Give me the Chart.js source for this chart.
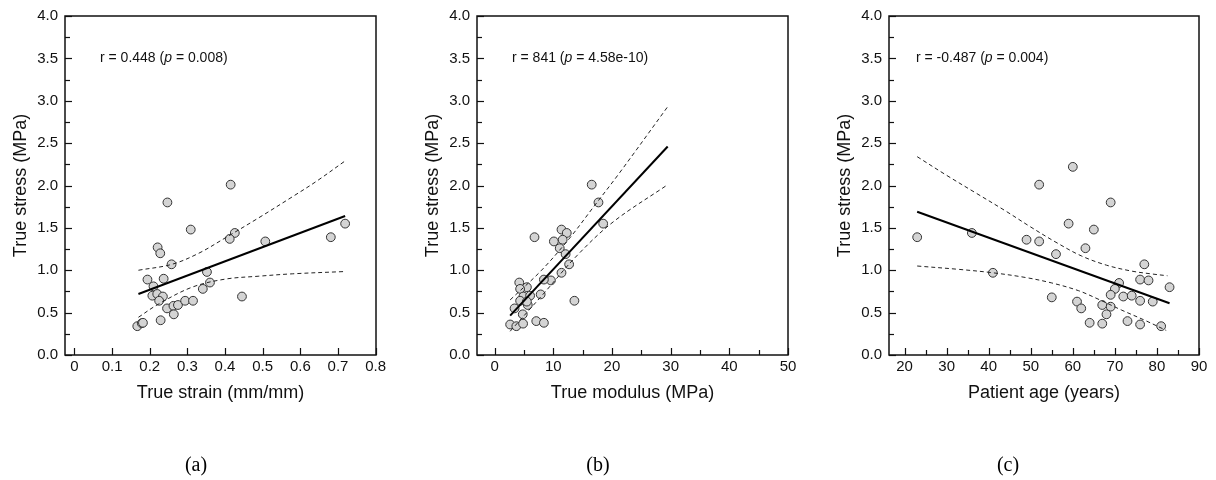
<!DOCTYPE html>
<html>
<head>
<meta charset="utf-8">
<script src="https://cdn.jsdelivr.net/npm/chart.js@4.4.0/dist/chart.umd.min.js"></script>
<style>
  body { margin: 0; background: #fff; width: 1216px; height: 480px; position: relative; overflow: hidden; }
  canvas { position: absolute; top: 0; }
  .cap { position: absolute; top: 453px; font-family: "Liberation Serif", "Times New Roman", serif; font-size: 20px; color: #000; transform: translateX(-50%); }
</style>
</head>
<body>
<canvas id="chartA" width="400" height="480" style="left:0px"></canvas>
<canvas id="chartB" width="400" height="480" style="left:412px"></canvas>
<canvas id="chartC" width="392" height="480" style="left:824px"></canvas>
<div class="cap" style="left:196px">(a)</div>
<div class="cap" style="left:598px">(b)</div>
<div class="cap" style="left:1008px">(c)</div>
<script>
// ---- data ----
const stressTicks = [0, 0.5, 1.0, 1.5, 2.0, 2.5, 3.0, 3.5, 4.0];

// (a) true strain vs true stress
const strainA = [0.415, 0.247, 0.309, 0.426, 0.4125, 0.507, 0.681, 0.719, 0.221, 0.228, 0.258, 0.352, 0.36, 0.341,
  0.194, 0.237, 0.21, 0.207, 0.22, 0.235, 0.225, 0.445, 0.246, 0.263, 0.275, 0.294, 0.315, 0.264, 0.229, 0.167, 0.179, 0.182];
const stressA = [2.01, 1.80, 1.48, 1.44, 1.37, 1.34, 1.39, 1.55, 1.27, 1.20, 1.07, 0.98, 0.855, 0.78,
  0.89, 0.90, 0.81, 0.70, 0.72, 0.69, 0.64, 0.69, 0.55, 0.58, 0.59, 0.64, 0.64, 0.48, 0.41, 0.34, 0.375, 0.38];
const fitAx = [0.17, 0.719];
const fitAy = [0.72, 1.64];
const bandAx = [0.17, 0.259, 0.33, 0.40, 0.49, 0.58, 0.643, 0.719];
const upperAy = [1.00, 1.07, 1.20, 1.38, 1.62, 1.87, 2.05, 2.29];
const lowerAx = [0.17, 0.223, 0.3125, 0.40, 0.49, 0.58, 0.719];
const lowerAy = [0.445, 0.60, 0.80, 0.895, 0.93, 0.958, 0.985];
const xTicksA = [0, 0.1, 0.2, 0.3, 0.4, 0.5, 0.6, 0.7, 0.8];

// (b) true modulus vs true stress
const modulusB = [16.55, 17.7, 18.5, 11.4, 12.3, 6.8, 10.1, 11.6, 11.1, 12.1, 12.7, 11.4, 9.6, 8.4, 4.2, 5.5, 4.35, 7.85,
  4.9, 6.05, 4.35, 5.65, 13.6, 3.4, 4.8, 2.65, 3.7, 4.85, 7.1, 8.4, 5.5];
const stressB = [2.01, 1.80, 1.55, 1.48, 1.44, 1.39, 1.34, 1.36, 1.26, 1.19, 1.07, 0.97, 0.88, 0.89, 0.855, 0.80, 0.78, 0.715,
  0.69, 0.70, 0.64, 0.59, 0.64, 0.55, 0.48, 0.36, 0.34, 0.37, 0.40, 0.38, 0.63];
const fitBx = [2.65, 29.5];
const fitBy = [0.465, 2.46];
const upperBx = [2.65, 8, 12.8, 17, 21.3, 29.5];
const upperBy = [0.65, 1.0, 1.38, 1.76, 2.15, 2.93];
const lowerBx = [2.65, 8.3, 14, 20.2, 29.5];
const lowerBy = [0.28, 0.72, 1.17, 1.57, 2.01];
const xTicksB = [0, 10, 20, 30, 40, 50];

// (c) patient age vs true stress
const ageC = [52, 69, 59, 65, 23, 36, 49, 52, 56, 63, 77, 41, 76, 78, 71, 83, 70, 69, 72, 74, 55, 61, 76, 79, 62, 67, 69, 68,
  64, 67, 73, 76, 81, 60];
const stressC = [2.01, 1.80, 1.55, 1.48, 1.39, 1.44, 1.36, 1.34, 1.19, 1.26, 1.07, 0.97, 0.89, 0.88, 0.85, 0.80, 0.78, 0.71,
  0.69, 0.70, 0.68, 0.63, 0.64, 0.63, 0.55, 0.59, 0.57, 0.48, 0.38, 0.37, 0.40, 0.36, 0.34, 2.22];
const fitCx = [23, 83];
const fitCy = [1.69, 0.61];
const upperCx = [23, 30, 37, 44, 50, 56, 62, 68, 74, 79, 82.5];
const upperCy = [2.34, 2.12, 1.91, 1.70, 1.51, 1.33, 1.17, 1.06, 0.99, 0.955, 0.935];
const lowerCx = [23, 33, 41, 48.7, 55, 61.3, 66, 71.6, 77.1, 82.2];
const lowerCy = [1.05, 1.01, 0.97, 0.915, 0.85, 0.76, 0.66, 0.53, 0.41, 0.29];
const xTicksC = [20, 30, 40, 50, 60, 70, 80, 90];

const FONT = "'Liberation Sans', Arial, Helvetica, sans-serif";
const zip = (xs, ys) => xs.map((x, i) => ({ x: x, y: ys[i] }));

// frame, inward tick marks and the r / p note
const framePlugin = {
  id: 'frame',
  afterDraw(chart, args, opts) {
    const ctx = chart.ctx;
    const a = chart.chartArea;
    const xs = chart.scales.x, ys = chart.scales.y;
    ctx.save();
    ctx.strokeStyle = '#111';
    ctx.lineWidth = 1.2;
    ys.ticks.forEach(t => {
      const y = Math.round(ys.getPixelForValue(t.value)) + 0.5;
      ctx.beginPath(); ctx.moveTo(a.left, y); ctx.lineTo(a.left + 7, y); ctx.stroke();
      const m = t.value + 0.25;
      if (m < ys.max) {
        const ym = Math.round(ys.getPixelForValue(m)) + 0.5;
        ctx.beginPath(); ctx.moveTo(a.left, ym); ctx.lineTo(a.left + 5, ym); ctx.stroke();
      }
    });
    xs.ticks.forEach(t => {
      const x = Math.round(xs.getPixelForValue(t.value)) + 0.5;
      ctx.beginPath(); ctx.moveTo(x, a.bottom); ctx.lineTo(x, a.bottom - 7); ctx.stroke();
      if (opts.minor) {
        const m = t.value + opts.minor;
        if (m < xs.max) {
          const xm = Math.round(xs.getPixelForValue(m)) + 0.5;
          ctx.beginPath(); ctx.moveTo(xm, a.bottom); ctx.lineTo(xm, a.bottom - 5); ctx.stroke();
        }
      }
    });
    ctx.lineWidth = 1.5;
    ctx.strokeRect(a.left, a.top, a.right - a.left, a.bottom - a.top);

    // note text
    ctx.fillStyle = '#111';
    ctx.textBaseline = 'middle';
    let x = a.left + opts.noteDx;
    const y = ys.getPixelForValue(3.5);
    const parts = [[opts.pre, ''], ['p', 'italic '], [opts.post, '']];
    parts.forEach(p => {
      ctx.font = p[1] + '14px ' + FONT;
      ctx.fillText(p[0], x, y);
      x += ctx.measureText(p[0]).width;
    });
    ctx.restore();
  }
};

function makePanel(id, o) {
  new Chart(document.getElementById(id), {
    type: 'scatter',
    data: {
      datasets: [
        { data: zip(o.fitX, o.fitY), showLine: true, borderColor: '#000', borderWidth: 2, pointRadius: 0 },
        { data: zip(o.upX, o.upY), showLine: true, borderColor: '#222', borderWidth: 1, borderDash: [4, 3], pointRadius: 0, tension: 0.35 },
        { data: zip(o.loX, o.loY), showLine: true, borderColor: '#222', borderWidth: 1, borderDash: [4, 3], pointRadius: 0, tension: 0.35 },
        { data: zip(o.px, o.py), pointRadius: 4.4, backgroundColor: '#d4d4d4', borderColor: '#333', borderWidth: 1 }
      ]
    },
    options: {
      responsive: false,
      animation: false,
      layout: { padding: { top: 13, right: o.padRight, bottom: 76, left: 0 } },
      plugins: {
        legend: { display: false },
        tooltip: { enabled: false },
        frame: { minor: o.minor, noteDx: o.noteDx, pre: o.pre, post: o.post }
      },
      scales: {
        x: {
          type: 'linear', min: o.xMin, max: o.xMax,
          afterBuildTicks: s => { s.ticks = o.xTicks.map(v => ({ value: v })); },
          afterFit: s => { s.height = 49; },
          grid: { display: false, drawTicks: false, tickLength: 0 },
          border: { display: false },
          ticks: { font: { family: FONT, size: 15 }, color: '#111', padding: 3, maxRotation: 0,
            callback: v => o.xFmt(v) },
          title: { display: true, text: o.xTitle, font: { family: FONT, size: 18 }, color: '#111', padding: 0 }
        },
        y: {
          min: 0, max: 4,
          afterBuildTicks: s => { s.ticks = stressTicks.map(v => ({ value: v })); },
          afterFit: s => { s.width = 65; },
          grid: { display: false, drawTicks: false, tickLength: 0 },
          border: { display: false },
          ticks: { font: { family: FONT, size: 15 }, color: '#111', padding: 7, callback: v => v.toFixed(1) },
          title: { display: true, text: 'True stress (MPa)', font: { family: FONT, size: 18 }, color: '#111', padding: { top: 10, bottom: 0 } }
        }
      }
    },
    plugins: [framePlugin]
  });
}

makePanel('chartA', {
  px: strainA, py: stressA, fitX: fitAx, fitY: fitAy, upX: bandAx, upY: upperAy, loX: lowerAx, loY: lowerAy,
  xMin: -0.025, xMax: 0.801, xTicks: xTicksA, xFmt: v => (v === 0 ? '0' : v.toFixed(1)), minor: 0,
  xTitle: 'True strain (mm/mm)', padRight: 24, noteDx: 35, pre: 'r = 0.448 (', post: ' = 0.008)'
});
makePanel('chartB', {
  px: modulusB, py: stressB, fitX: fitBx, fitY: fitBy, upX: upperBx, upY: upperBy, loX: lowerBx, loY: lowerBy,
  xMin: -3, xMax: 50, xTicks: xTicksB, xFmt: v => String(v), minor: 5,
  xTitle: 'True modulus (MPa)', padRight: 24, noteDx: 35, pre: 'r = 841 (', post: ' = 4.58e-10)'
});
makePanel('chartC', {
  px: ageC, py: stressC, fitX: fitCx, fitY: fitCy, upX: upperCx, upY: upperCy, loX: lowerCx, loY: lowerCy,
  xMin: 16.3, xMax: 90, xTicks: xTicksC, xFmt: v => String(v), minor: 5,
  xTitle: 'Patient age (years)', padRight: 17, noteDx: 27, pre: 'r = -0.487 (', post: ' = 0.004)'
});
</script>
</body>
</html>
